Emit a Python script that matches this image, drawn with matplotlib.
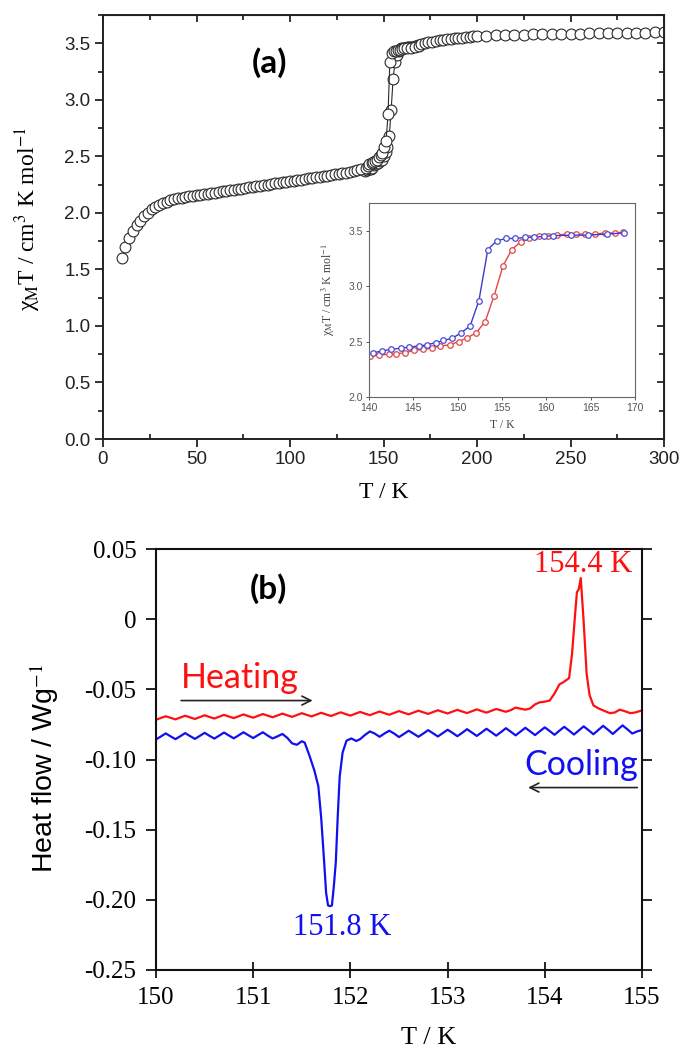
import numpy as np
import matplotlib
matplotlib.use('Agg')
import matplotlib.pyplot as plt
from matplotlib.ticker import MultipleLocator, FixedLocator, FixedFormatter

plt.rcParams.update({
    'font.family': 'Liberation Sans',
    'mathtext.fontset': 'stix',
    'axes.unicode_minus': False,
})

SERIF = 'Liberation Serif'
LABEL_SANS = 'Lato'

# ── (a) chi_M T vs T ─────────────────────────────────────────────────────────
low_T = [10, 12, 14, 16, 18, 20, 22, 24, 26, 28, 30, 32, 34, 36, 38, 40, 42, 44,
         46, 48, 50, 52, 54, 56, 58, 60, 62, 64, 66, 68, 70, 72, 74, 76, 78, 80,
         82, 84, 86, 88, 90, 92, 94, 96, 98, 100, 102, 104, 106, 108, 110, 112,
         114, 116, 118, 120, 122, 124, 126, 128, 130, 132, 134, 136, 138]
low_chi = [1.60, 1.70, 1.78, 1.84, 1.89, 1.93, 1.97, 2.00, 2.03, 2.05, 2.07, 2.09,
           2.10, 2.11, 2.12, 2.13, 2.135, 2.14, 2.145, 2.15, 2.155, 2.16, 2.165,
           2.17, 2.175, 2.18, 2.185, 2.19, 2.195, 2.20, 2.205, 2.21, 2.215, 2.22,
           2.225, 2.23, 2.235, 2.24, 2.245, 2.25, 2.255, 2.26, 2.265, 2.27, 2.275,
           2.28, 2.285, 2.29, 2.295, 2.30, 2.305, 2.31, 2.315, 2.32, 2.325, 2.33,
           2.335, 2.34, 2.345, 2.35, 2.355, 2.36, 2.37, 2.38, 2.39]

cool_T = [140.5, 141.5, 142.5, 143.6, 144.5, 145.6, 146.5, 147.5, 148.4, 149.4,
          150.4, 151.4, 152.4, 153.4, 154.4, 155.5, 156.5, 157.6, 158.6, 159.7,
          160.8, 162.8, 164.7, 166.8, 168.8]
cool_chi = [2.40, 2.415, 2.43, 2.44, 2.45, 2.46, 2.47, 2.49, 2.51, 2.53, 2.58,
            2.64, 2.87, 3.33, 3.41, 3.43, 3.43, 3.44, 3.44, 3.45, 3.455, 3.46,
            3.46, 3.47, 3.48]

heat_T = [140.1, 141.1, 142.2, 143.1, 144.1, 145.1, 146.1, 147.1, 148.0, 149.1,
          150.1, 151.1, 152.1, 153.1, 154.1, 155.1, 156.1, 157.1, 158.1, 159.2,
          160.2, 161.2, 162.3, 163.4, 164.4, 165.5, 166.6, 167.7, 168.7]
heat_chi = [2.37, 2.378, 2.385, 2.39, 2.40, 2.42, 2.43, 2.44, 2.46, 2.47, 2.50,
            2.535, 2.58, 2.68, 2.91, 3.18, 3.33, 3.40, 3.43, 3.455, 3.455, 3.46,
            3.47, 3.47, 3.47, 3.47, 3.48, 3.48, 3.485]

high_T = [170, 172, 174, 176, 178, 180, 182, 184, 186, 188, 190, 192, 194, 196,
          198, 200, 205, 210, 215, 220, 225, 230, 235, 240, 245, 250, 255, 260,
          265, 270, 275, 280, 285, 290, 295, 300]
high_chi = [3.49, 3.50, 3.51, 3.515, 3.52, 3.525, 3.53, 3.535, 3.54, 3.545, 3.55,
            3.55, 3.555, 3.555, 3.56, 3.56, 3.565, 3.57, 3.57, 3.575, 3.575, 3.58,
            3.58, 3.58, 3.585, 3.585, 3.585, 3.59, 3.59, 3.59, 3.59, 3.595, 3.595,
            3.595, 3.60, 3.60]

# ── (b) DSC ──────────────────────────────────────────────────────────────────
dsc_heat_T = [150.00, 150.05, 150.10, 150.15, 150.20, 150.25, 150.30, 150.35,
              150.40, 150.45, 150.50, 150.55, 150.60, 150.65, 150.70, 150.75,
              150.80, 150.85, 150.90, 150.95, 151.00, 151.05, 151.10, 151.15,
              151.20, 151.25, 151.30, 151.35, 151.40, 151.45, 151.50, 151.55,
              151.60, 151.65, 151.70, 151.75, 151.80, 151.85, 151.90, 151.95,
              152.00, 152.05, 152.10, 152.15, 152.20, 152.25, 152.30, 152.35,
              152.40, 152.45, 152.50, 152.55, 152.60, 152.65, 152.70, 152.75,
              152.80, 152.85, 152.90, 152.95, 153.00, 153.05, 153.10, 153.15,
              153.20, 153.25, 153.30, 153.35, 153.40, 153.45, 153.50, 153.55,
              153.60, 153.65, 153.70, 153.75, 153.80, 153.85, 153.90, 153.95,
              154.00, 154.05, 154.10, 154.15, 154.20, 154.25, 154.28, 154.31,
              154.33, 154.35, 154.37, 154.40, 154.43, 154.46, 154.50, 154.55,
              154.60, 154.67, 154.72, 154.77, 154.82, 154.88, 154.93, 155.00]
dsc_heat = [-0.0717, -0.0704, -0.0692, -0.0703, -0.0714, -0.0701, -0.0688, -0.0700,
            -0.0711, -0.0698, -0.0685, -0.0697, -0.0708, -0.0695, -0.0682, -0.0694,
            -0.0705, -0.0692, -0.0679, -0.0691, -0.0702, -0.0689, -0.0676, -0.0688,
            -0.0699, -0.0686, -0.0673, -0.0685, -0.0696, -0.0683, -0.0670, -0.0682,
            -0.0693, -0.0680, -0.0667, -0.0679, -0.0690, -0.0677, -0.0664, -0.0676,
            -0.0687, -0.0674, -0.0661, -0.0673, -0.0684, -0.0671, -0.0658, -0.0670,
            -0.0681, -0.0668, -0.0655, -0.0667, -0.0678, -0.0665, -0.0652, -0.0664,
            -0.0675, -0.0662, -0.0649, -0.0661, -0.0672, -0.0659, -0.0646, -0.0658,
            -0.0669, -0.0656, -0.0643, -0.0655, -0.0666, -0.0653, -0.0640, -0.0650,
            -0.0660, -0.0648, -0.0630, -0.0638, -0.0645, -0.0636, -0.0607, -0.0592,
            -0.0588, -0.0580, -0.0530, -0.0465, -0.0445, -0.0420, -0.0250, 0.0020,
            0.0190, 0.0215, 0.0293, -0.0020, -0.0386, -0.0540, -0.0614, -0.0635,
            -0.0650, -0.0670, -0.0665, -0.0645, -0.0655, -0.0670, -0.0665, -0.0650]

dsc_cool_T = [150.00, 150.05, 150.10, 150.15, 150.20, 150.25, 150.30, 150.35,
              150.40, 150.45, 150.50, 150.55, 150.60, 150.65, 150.70, 150.75,
              150.80, 150.85, 150.90, 150.95, 151.00, 151.05, 151.10, 151.15,
              151.20, 151.25, 151.30, 151.35, 151.40, 151.45, 151.50, 151.53,
              151.58, 151.63, 151.67, 151.70, 151.73, 151.75, 151.77, 151.79,
              151.81, 151.83, 151.85, 151.87, 151.89, 151.92, 151.96, 152.01,
              152.06, 152.10, 152.15, 152.20, 152.25, 152.30, 152.35, 152.40,
              152.45, 152.50, 152.55, 152.60, 152.65, 152.70, 152.75, 152.80,
              152.85, 152.90, 152.95, 153.00, 153.05, 153.10, 153.15, 153.20,
              153.25, 153.30, 153.35, 153.40, 153.45, 153.50, 153.55, 153.60,
              153.65, 153.70, 153.75, 153.80, 153.85, 153.90, 153.95, 154.00,
              154.05, 154.10, 154.15, 154.20, 154.25, 154.30, 154.35, 154.40,
              154.45, 154.50, 154.55, 154.60, 154.65, 154.70, 154.75, 154.80,
              154.85, 154.90, 154.95, 155.00]
dsc_cool = [-0.0857, -0.0836, -0.0814, -0.0835, -0.0855, -0.0834, -0.0812, -0.0833,
            -0.0853, -0.0832, -0.0810, -0.0831, -0.0851, -0.0830, -0.0808, -0.0829,
            -0.0849, -0.0828, -0.0806, -0.0827, -0.0847, -0.0826, -0.0806, -0.0830,
            -0.0850, -0.0835, -0.0818, -0.0845, -0.0885, -0.0895, -0.0870, -0.0880,
            -0.0975, -0.1080, -0.1190, -0.1420, -0.1730, -0.1950, -0.2040, -0.2045,
            -0.2040, -0.1900, -0.1730, -0.1400, -0.1120, -0.0950, -0.0866, -0.0850,
            -0.0868, -0.0855, -0.0825, -0.0800, -0.0815, -0.0838, -0.0815, -0.0795,
            -0.0815, -0.0840, -0.0818, -0.0795, -0.0816, -0.0838, -0.0815, -0.0791,
            -0.0813, -0.0836, -0.0812, -0.0788, -0.0810, -0.0834, -0.0810, -0.0784,
            -0.0808, -0.0832, -0.0807, -0.0781, -0.0805, -0.0830, -0.0804, -0.0777,
            -0.0802, -0.0828, -0.0801, -0.0774, -0.0800, -0.0826, -0.0798, -0.0771,
            -0.0797, -0.0824, -0.0795, -0.0767, -0.0794, -0.0822, -0.0793, -0.0764,
            -0.0791, -0.0820, -0.0790, -0.0760, -0.0788, -0.0818, -0.0787, -0.0757,
            -0.0785, -0.0815, -0.0800, -0.0790]

dsc_yticks = [0.05, 0.0, -0.05, -0.10, -0.15, -0.20, -0.25]
dsc_ylabels = ['0.05', '0', '-0.05', '-0.10', '-0.15', '-0.20', '-0.25']

W, H = 681, 1052
fig = plt.figure(figsize=(W / 100, H / 100), dpi=100)


def box(x0, y0, x1, y1):
    return [x0 / W, 1 - y1 / H, (x1 - x0) / W, (y1 - y0) / H]


CHI_LABEL = 'χ$_{\\rm M}$T / cm$^{3}$ K mol$^{-1}$'

# ── Panel (a) ────────────────────────────────────────────────────────────────
ax1 = fig.add_axes(box(103, 15, 664, 439))
main_T = low_T + cool_T + high_T
main_chi = low_chi + cool_chi + high_chi
circ = dict(marker='o', ms=7.8, mfc='white', mec='#2a2a2a', mew=0.8,
            color='#2a2a2a', lw=0.8)
ax1.plot(heat_T, heat_chi, **circ)
ax1.plot(main_T, main_chi, **circ)
ax1.set_xlim(0, 300)
ax1.set_ylim(0, 3.75)
ax1.xaxis.set_major_locator(MultipleLocator(50))
ax1.xaxis.set_minor_locator(MultipleLocator(25))
ax1.yaxis.set_major_locator(MultipleLocator(0.5))
ax1.yaxis.set_minor_locator(MultipleLocator(0.25))
ax1.yaxis.set_major_formatter(matplotlib.ticker.FormatStrFormatter('%.1f'))
ax1.tick_params(axis='y', which='major', direction='out', length=6, width=1.3,
                labelsize=13.5, pad=3, colors='#222')
ax1.tick_params(axis='y', which='minor', direction='out', length=3.5, width=1.1)
ax1.tick_params(axis='x', which='major', direction='out', length=6, width=1.3,
                labelsize=13.5, pad=3, colors='#222')
ax1.tick_params(axis='x', which='minor', direction='in', length=3.5, width=1.1)
for s in ax1.spines.values():
    s.set_linewidth(1.4)
    s.set_color('#222')

top = ax1.secondary_xaxis('top')
top.xaxis.set_major_locator(MultipleLocator(50))
top.xaxis.set_minor_locator(MultipleLocator(25))
top.tick_params(which='both', direction='in', labeltop=False, width=1.1)
top.tick_params(which='major', length=5)
top.tick_params(which='minor', length=3.5)
right = ax1.secondary_yaxis('right')
right.yaxis.set_major_locator(MultipleLocator(0.5))
right.yaxis.set_minor_locator(MultipleLocator(0.25))
right.tick_params(which='both', direction='in', labelright=False, width=1.1)
right.tick_params(which='major', length=5)
right.tick_params(which='minor', length=3.5)

ax1.set_xlabel('T / K', fontfamily=SERIF, fontsize=17)
ax1.xaxis.set_label_coords(0.5, -0.102)
ax1.set_ylabel(CHI_LABEL, fontfamily=SERIF, fontsize=17)
ax1.yaxis.set_label_coords(-0.107, 0.52)
ax1.text(88.8, 3.33, '(a)', fontfamily=LABEL_SANS, fontweight='bold',
         fontsize=24, ha='center', va='center')

# inset
axi = fig.add_axes(box(369, 203, 635, 397))
axi.plot(heat_T, heat_chi, marker='o', ms=4, mfc='white', mec='#e04848',
         mew=0.9, color='#e04848', lw=1.0)
axi.plot(cool_T, cool_chi, marker='o', ms=4, mfc='white', mec='#4a4ad8',
         mew=0.9, color='#3a3ad0', lw=1.0)
axi.set_xlim(140, 170)
axi.set_ylim(2.0, 3.75)
axi.xaxis.set_major_locator(MultipleLocator(5))
axi.yaxis.set_major_locator(FixedLocator([2.0, 2.5, 3.0, 3.5]))
axi.yaxis.set_major_formatter(matplotlib.ticker.FormatStrFormatter('%.1f'))
axi.tick_params(direction='out', length=2.5, width=0.7, labelsize=7.5,
                colors='#555', pad=2)
for s in axi.spines.values():
    s.set_linewidth(0.8)
    s.set_color('#666')
axi.set_xlabel('T / K', fontfamily=SERIF, fontsize=8.5, color='#444')
axi.xaxis.set_label_coords(0.5, -0.115)
axi.set_ylabel(CHI_LABEL, fontfamily=SERIF, fontsize=8.5, color='#444')
axi.yaxis.set_label_coords(-0.12, 0.55)

# ── Panel (b) ────────────────────────────────────────────────────────────────
ax2 = fig.add_axes(box(156, 549, 642, 970))
ax2.plot(dsc_heat_T, dsc_heat, color='#ff1010', lw=1.6)
ax2.plot(dsc_cool_T, dsc_cool, color='#1010f0', lw=1.6)
ax2.set_xlim(150, 155)
ax2.set_ylim(-0.25, 0.05)
ax2.xaxis.set_major_locator(MultipleLocator(1))
ax2.yaxis.set_major_locator(FixedLocator(dsc_yticks))
ax2.yaxis.set_major_formatter(FixedFormatter(dsc_ylabels))
ax2.tick_params(axis='y', direction='out', length=7, width=1.2, labelsize=18,
                pad=7, right=True, left=True)
ax2.tick_params(axis='x', direction='inout', length=12, width=1.2,
                labelsize=18, pad=6)
for lab in ax2.get_xticklabels() + ax2.get_yticklabels():
    lab.set_fontfamily(SERIF)
for s in ax2.spines.values():
    s.set_linewidth(1.5)
    s.set_color('#111')

ax2.set_xlabel('T / K', fontfamily=SERIF, fontsize=19)
ax2.xaxis.set_label_coords(0.562, -0.135)
ax2.set_ylabel('Heat flow / Wg$^{-1}$', fontsize=20.5)
ax2.yaxis.set_label_coords(-0.195, 0.48)

ax2.text(151.16, 0.022, '(b)', fontfamily=LABEL_SANS, fontweight='bold',
         fontsize=24, ha='center', va='center')
ax2.text(154.39, 0.0386, '154.4 K', fontfamily=SERIF, fontsize=22,
         color='#ff1010', ha='center', va='center')
ax2.text(151.92, -0.22, '151.8 K', fontfamily=SERIF, fontsize=22,
         color='#1010f0', ha='center', va='center')
ax2.text(150.86, -0.042, 'Heating', fontfamily=LABEL_SANS, fontsize=24.5,
         color='#ff1010', ha='center', va='center')
ax2.text(154.38, -0.104, 'Cooling', fontfamily=LABEL_SANS, fontsize=24.5,
         color='#1010f0', ha='center', va='center')
arrow = dict(arrowstyle='->', color='#222', lw=1.2, mutation_scale=16)
ax2.annotate('', xy=(151.64, -0.058), xytext=(150.23, -0.058),
             arrowprops=arrow)
ax2.annotate('', xy=(153.80, -0.120), xytext=(154.98, -0.120),
             arrowprops=arrow)

fig.savefig('out.png', dpi=100)
